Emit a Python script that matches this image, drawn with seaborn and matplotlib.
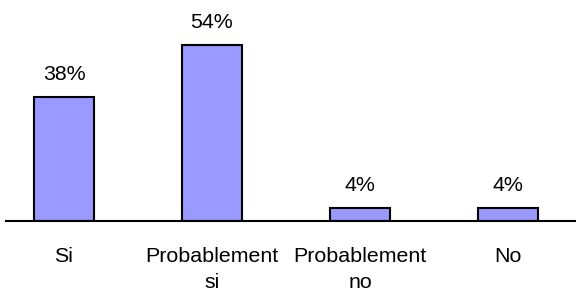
import matplotlib
matplotlib.use("Agg")
import matplotlib.pyplot as plt
import seaborn as sns
import pandas as pd

categories = ["Si", "Probablement\nsi", "Probablement\nno", "No"]
values = [38, 54, 4, 4]
labels = ["38%", "54%", "4%", "4%"]

sns.set_theme(style="white")
plt.rcParams["font.family"] = ["Liberation Sans", "DejaVu Sans"]

df = pd.DataFrame({"cat": categories, "val": values})

fig = plt.figure(figsize=(5.76, 2.93), dpi=100)
# axes: left at x=6px, right at 576px, bottom at baseline y=221px
ax = fig.add_axes([6 / 576, (293 - 221) / 293, 570 / 576, 221 / 293])

sns.barplot(data=df, x="cat", y="val", color="#9999FF", saturation=1,
            edgecolor="black", linewidth=1.5, width=0.405, ax=ax)

for i, (v, lab) in enumerate(zip(values, labels)):
    ax.annotate(lab, (i, v), xytext=(0, 16.5), textcoords="offset points",
                ha="center", va="center", fontsize=15.4, color="black")

ax.set_xlim(-0.392, 3.46)
ax.set_ylim(0, 67.8)
ax.set_xlabel("")
ax.set_ylabel("")
ax.set_yticks([])
for side in ["top", "left", "right"]:
    ax.spines[side].set_visible(False)
ax.spines["bottom"].set_color("black")
ax.spines["bottom"].set_linewidth(1.5)
ax.tick_params(axis="x", length=0, pad=19, labelsize=15.4, colors="black")
for t in ax.get_xticklabels():
    t.set_linespacing(1.45)

fig.savefig("out.png", dpi=100)
